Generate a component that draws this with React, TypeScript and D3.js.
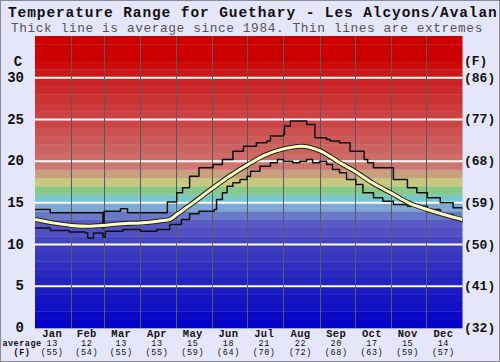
import React from 'react'
import * as d3 from 'd3'

// chart data
const months = ['Jan', 'Feb', 'Mar', 'Apr', 'May', 'Jun', 'Jul', 'Aug', 'Sep', 'Oct', 'Nov', 'Dec']
const monthAvgC = [13, 12, 13, 13, 15, 18, 21, 22, 20, 17, 15, 14]
const monthAvgF = [55, 54, 55, 55, 59, 64, 70, 72, 68, 63, 59, 57]
const monthStart = [0, 31, 59, 90, 120, 151, 181, 212, 243, 273, 304, 334, 365]

const tickC = [0, 5, 10, 15, 20, 25, 30]
const tickF = ['(32)', '(41)', '(50)', '(59)', '(68)', '(77)', '(86)']

// average (thick line), day of year -> C
const avgDays = [0, 15, 31, 45, 59, 74, 90, 105, 115, 121, 135, 152, 166, 182, 196, 213, 227, 244, 258, 274, 288, 305, 319, 335, 349, 365]
const avgTemps = [13.0, 12.6, 12.3, 12.2, 12.3, 12.5, 12.6, 12.8, 13.0, 13.6, 15.0, 16.8, 18.2, 19.6, 20.7, 21.5, 21.8, 21.2, 20.0, 18.7, 17.4, 16.1, 15.0, 14.2, 13.6, 13.0]

// extremes (thin step lines)
const maxDays = [0, 13, 30, 58, 59, 73, 79, 113, 121, 126, 132, 140, 152, 160, 169, 178, 189, 198, 201, 212, 213, 218, 232, 239, 249, 252, 260, 269, 281, 284, 289, 306, 318, 326, 335, 346, 357, 365]
const maxTemps = [14.2, 13.8, 13.8, 12.0, 14.0, 14.3, 13.8, 15.1, 16.2, 16.8, 18.2, 19.2, 19.6, 20.2, 21.2, 21.8, 22.2, 22.4, 23.0, 23.2, 24.2, 24.8, 24.4, 22.8, 22.6, 22.4, 22.2, 21.2, 20.2, 19.8, 19.2, 17.8, 16.8, 16.2, 15.6, 15.0, 14.4, 14.2]
const minDays = [0, 13, 29, 43, 45, 50, 58, 60, 75, 90, 104, 115, 125, 132, 140, 153, 155, 160, 164, 169, 175, 181, 184, 192, 201, 207, 212, 220, 226, 232, 237, 243, 249, 254, 260, 266, 274, 280, 289, 297, 306, 318, 335, 346, 357, 365]
const minTemps = [12.0, 11.7, 11.5, 11.4, 10.8, 11.4, 10.9, 11.6, 11.8, 11.6, 11.8, 12.4, 13.0, 13.7, 14.0, 14.2, 15.4, 16.2, 17.0, 17.4, 17.8, 18.2, 18.8, 19.4, 19.8, 20.2, 20.0, 19.8, 20.0, 20.2, 19.8, 20.0, 19.6, 19.0, 18.6, 17.8, 17.2, 16.2, 15.6, 15.2, 14.8, 14.6, 14.2, 13.6, 13.0, 12.6]

// colour of each 1 degree band, keyed by band centre
const bandStops: [number, string][] = [
  [0.5, '#0404c8'], [4.5, '#1c1cc0'], [9.5, '#3c3cc0'], [12.5, '#5a5ac4'], [13.5, '#6a78c8'],
  [14.5, '#80a8d4'], [15.5, '#78c8c8'], [16.5, '#88c888'], [17.5, '#c8c880'], [18.5, '#c8a080'],
  [19.5, '#cc7870'], [20.5, '#cc6c68'], [24.5, '#cc4848'], [29.5, '#cc2424'], [31.5, '#cc0c0c'],
  [32.5, '#cc0000'], [34.5, '#cc0000'],
]

const W = 500
const H = 362
const mono = '"Liberation Mono", "DejaVu Sans Mono", monospace'

export default function App() {
  const x = d3.scaleLinear().domain([0, 365]).range([35, 462.5])
  const y = d3.scaleLinear().domain([0, 35]).range([328, 36])
  const bandColor = d3.scaleLinear<string>()
    .domain(bandStops.map(s => s[0]))
    .range(bandStops.map(s => s[1]))
    .interpolate(d3.interpolateRgb)
  const bands = d3.range(0, 35)

  const zip = (ds: number[], ts: number[]) => ds.map((d, i) => [d, ts[i]] as [number, number])
  const step = d3.line<[number, number]>().x(d => x(d[0])).y(d => y(d[1])).curve(d3.curveStepAfter)
  const smooth = d3.line<[number, number]>().x(d => x(d[0])).y(d => y(d[1])).curve(d3.curveMonotoneX)

  const avgPath = smooth(zip(avgDays, avgTemps)) || ''
  const maxPath = step(zip(maxDays, maxTemps)) || ''
  const minPath = step(zip(minDays, minTemps)) || ''

  return (
    <svg width={W} height={H} style={{ position: 'absolute', left: 0, top: 0, display: 'block' }}>
      <defs>
        <clipPath id="plot">
          <rect x={x(0)} y={y(35)} width={x(365) - x(0)} height={y(0) - y(35)} />
        </clipPath>
      </defs>
      <rect x={0.5} y={0.5} width={W - 1} height={H - 1} fill="#e6e6fa" stroke="#8a8a9a" />

      <text x={8} y={17} fontFamily={mono} fontWeight="bold" fontSize={14.5} letterSpacing={0.9} fill="#111">
        Temperature Range for Guethary - Les Alcyons/Avalan
      </text>
      <text x={11} y={32} fontFamily={mono} fontSize={12.8} letterSpacing={0.6} fill="#555">
        Thick line is average since 1984. Thin lines are extremes
      </text>

      {bands.map(b => (
        <rect key={b} x={x(0)} y={y(b + 1)} width={x(365) - x(0)} height={y(b) - y(b + 1) + 0.3}
          fill={bandColor(b + 0.5)} />
      ))}

      {tickC.filter(t => t > 0).map(t => (
        <line key={t} x1={x(0)} x2={x(365)} y1={y(t)} y2={y(t)} stroke="#fff" strokeWidth={2} />
      ))}

      {monthStart.slice(1, 12).map(d => (
        <line key={d} x1={Math.round(x(d)) + 0.5} x2={Math.round(x(d)) + 0.5} y1={y(35)} y2={y(0)}
          stroke="#5a5a66" strokeWidth={1} />
      ))}

      <g clipPath="url(#plot)" fill="none" strokeLinejoin="round">
        <path d={maxPath} stroke="#111" strokeWidth={1.5} />
        <path d={minPath} stroke="#111" strokeWidth={1.5} />
        <path d={avgPath} stroke="#222" strokeWidth={5} />
        <path d={avgPath} stroke="#ffffc0" strokeWidth={3} />
      </g>

      <text x={18} y={62} fontFamily={mono} fontWeight="bold" fontSize={14} textAnchor="middle"
        dominantBaseline="middle" fill="#111">C</text>
      <text x={464} y={62} fontFamily={mono} fontWeight="bold" fontSize={13} dominantBaseline="middle"
        fill="#111">(F)</text>
      {tickC.map((t, i) => (
        <g key={t}>
          <text x={24} y={y(t) + 0.5} fontFamily={mono} fontWeight="bold" fontSize={14} textAnchor="end"
            dominantBaseline="middle" fill="#111">{t}</text>
          <text x={464} y={y(t) + 0.5} fontFamily={mono} fontWeight="bold" fontSize={13}
            dominantBaseline="middle" fill="#111">{tickF[i]}</text>
        </g>
      ))}

      <text x={22} y={346} fontFamily={mono} fontWeight="bold" fontSize={8.5} letterSpacing={0.5} textAnchor="middle" fill="#111">average</text>
      <text x={22} y={355} fontFamily={mono} fontWeight="bold" fontSize={8.5} letterSpacing={0.5} textAnchor="middle" fill="#111">(F)</text>
      {months.map((m, i) => {
        const cx = x((monthStart[i] + monthStart[i + 1]) / 2) - 1
        return (
          <g key={m}>
            <text x={cx} y={336.5} fontFamily={mono} fontWeight="bold" fontSize={10.5} letterSpacing={0.3} textAnchor="middle" fill="#111">{m}</text>
            <text x={cx} y={346} fontFamily={mono} fontSize={8.5} letterSpacing={0.6} textAnchor="middle" fill="#111">{monthAvgC[i]}</text>
            <text x={cx} y={355} fontFamily={mono} fontSize={8.5} letterSpacing={0.6} textAnchor="middle" fill="#111">({monthAvgF[i]})</text>
          </g>
        )
      })}
    </svg>
  )
}
